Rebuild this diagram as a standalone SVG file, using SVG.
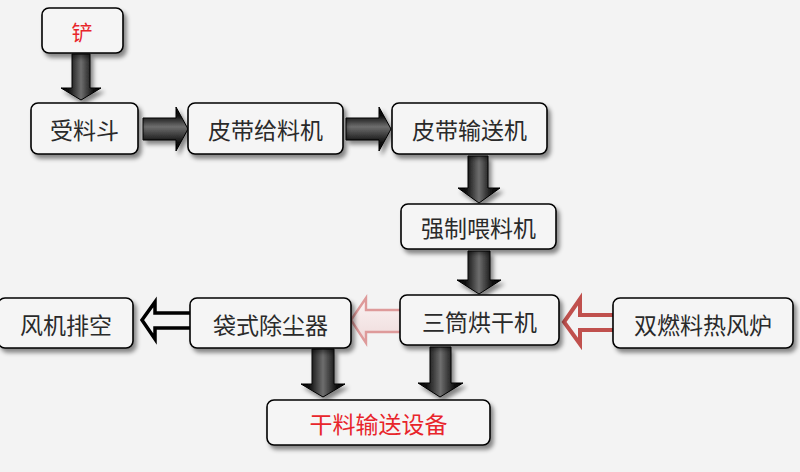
<svg xmlns="http://www.w3.org/2000/svg" width="800" height="472" viewBox="0 0 800 472">
<defs>
<filter id="sh" x="-10%" y="-10%" width="130%" height="140%">
<feDropShadow dx="3" dy="4" stdDeviation="2" flood-color="#000" flood-opacity="0.45"/>
</filter>
<linearGradient id="gv" x1="0" y1="0" x2="1" y2="0">
<stop offset="0" stop-color="#000"/><stop offset="0.2" stop-color="#111"/><stop offset="0.5" stop-color="#6e6e6e"/><stop offset="0.8" stop-color="#111"/><stop offset="1" stop-color="#000"/>
</linearGradient>
<linearGradient id="gh" x1="0" y1="0" x2="0" y2="1">
<stop offset="0" stop-color="#000"/><stop offset="0.2" stop-color="#111"/><stop offset="0.45" stop-color="#6e6e6e"/><stop offset="0.8" stop-color="#111"/><stop offset="1" stop-color="#000"/>
</linearGradient>
<linearGradient id="gp" x1="0" y1="0" x2="0" y2="1">
<stop offset="0" stop-color="#fbf3f3"/><stop offset="1" stop-color="#eedada"/>
</linearGradient>
</defs>
<style>
.box{fill:#f5f5f5;stroke:#000;stroke-width:1.6;filter:url(#sh)}
.t{font-family:"Noto Sans CJK SC","Noto Sans CJK JP",sans-serif;font-size:23px;fill:#2a2a2a;text-anchor:middle;dominant-baseline:central}
.red{fill:#e8252b}
.bv{fill:url(#gv);stroke:#000;stroke-width:1;filter:url(#sh)}
.bh{fill:url(#gh);stroke:#000;stroke-width:1;filter:url(#sh)}
</style>
<rect width="800" height="472" fill="#f3f3f3"/>
<g id="connectors">
<path class="bv" d="M72,54 H90 V88 H101 L81,100 L61,88 H72 Z"/>
<path class="bh" d="M143,118 H176 V107 L188,129 L176,151 V140 H143 Z"/>
<path class="bh" d="M346,118 H379 V107 L391,129 L379,151 V140 H346 Z"/>
<path class="bv" d="M468,156 H488 V188 H500 L479,203 L458,188 H468 Z"/>
<path class="bv" d="M468,251 H490 V280 H501 L479,294 L457,280 H468 Z"/>
<path class="bv" d="M430,347 H451 V383 H463 L440,397 L418,383 H430 Z"/>
<path class="bv" d="M312,349 H334 V384 H345 L323,397 L301,384 H312 Z"/>
<path d="M190,313 H155 V302 L142,320 L155,339 V328 H190" fill="#f3f3f3" stroke="#000" stroke-width="3.5" stroke-linejoin="miter"/>
<path d="M400,310 H366 V298 L351,320 L366,343 V332 H400" fill="url(#gp)" stroke="#de9a9a" stroke-width="2.4"/>
<path d="M613,315 H580 V299 L564,322 L580,344 V330 H613" fill="#f3f3f3" stroke="#c0504d" stroke-width="4"/>
</g>
<g id="n-chan"><rect class="box" x="42" y="8" width="81" height="45" rx="7"/><text class="t red" x="82" y="31" style="font-size:21px">铲</text></g>
<g id="n-shouliaodou"><rect class="box" x="31" y="103" width="107" height="51" rx="7"/><text class="t" x="84.5" y="129">受料斗</text></g>
<g id="n-geiliao"><rect class="box" x="188" y="103" width="155" height="51" rx="7"/><text class="t" x="265.5" y="129">皮带给料机</text></g>
<g id="n-shusong"><rect class="box" x="392" y="103" width="155" height="51" rx="7"/><text class="t" x="469.5" y="129">皮带输送机</text></g>
<g id="n-weiliao"><rect class="box" x="401" y="204" width="155" height="45" rx="7"/><text class="t" x="478.5" y="227">强制喂料机</text></g>
<g id="n-hongganji"><rect class="box" x="400" y="295" width="159" height="50" rx="7"/><text class="t" x="479.5" y="321">三筒烘干机</text></g>
<g id="n-refenglu"><rect class="box" x="613" y="298" width="180" height="50" rx="7"/><text class="t" x="703" y="324">双燃料热风炉</text></g>
<g id="n-chuchenqi"><rect class="box" x="190" y="298" width="161" height="50" rx="7"/><text class="t" x="270.5" y="324">袋式除尘器</text></g>
<g id="n-fengji"><rect class="box" x="-2" y="298" width="135" height="50" rx="7"/><text class="t" x="66" y="324">风机排空</text></g>
<g id="n-ganliao"><rect class="box" x="267" y="400" width="223" height="45" rx="7"/><text class="t red" x="378.5" y="423">干料输送设备</text></g>
</svg>
